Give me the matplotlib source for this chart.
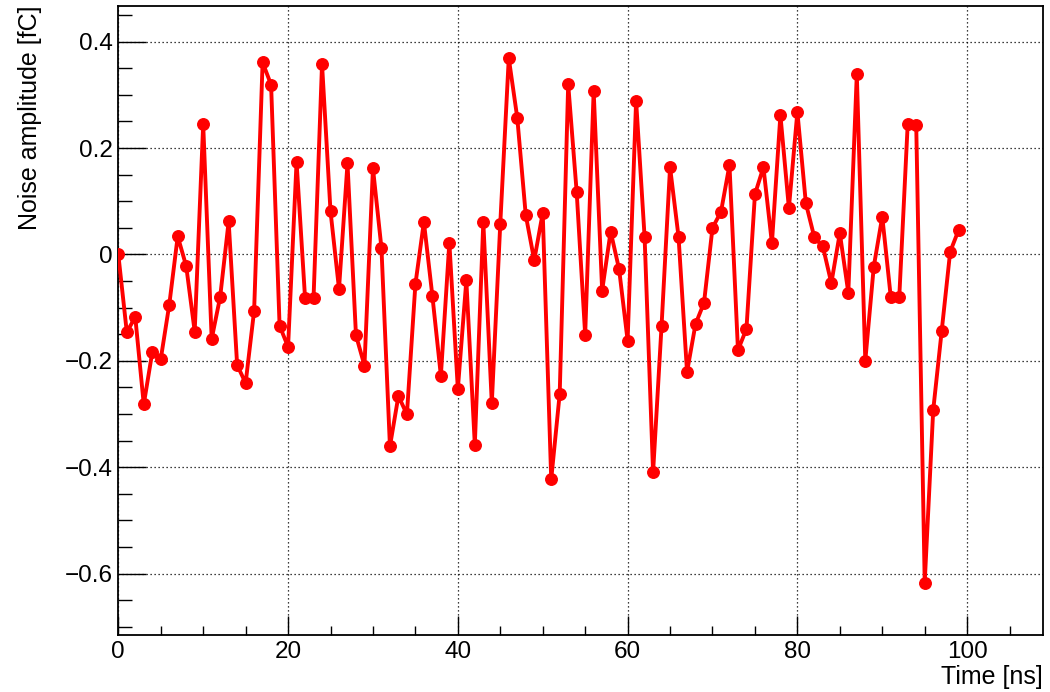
import matplotlib
matplotlib.use("Agg")
import matplotlib.pyplot as plt
from matplotlib.ticker import MultipleLocator, FuncFormatter

plt.rcParams['font.family'] = ['Liberation Sans', 'DejaVu Sans']

# ---- data ----
time_ns = list(range(100))
noise_fc = [
    0.000, -0.146, -0.118, -0.282, -0.184, -0.197, -0.095, 0.034, -0.022, -0.145,
    0.245, -0.159, -0.080, 0.062, -0.208, -0.242, -0.106, 0.361, 0.319, -0.134,
    -0.174, 0.174, -0.082, -0.082, 0.358, 0.081, -0.065, 0.171, -0.152, -0.209,
    0.162, 0.012, -0.361, -0.266, -0.301, -0.056, 0.061, -0.078, -0.228, 0.022,
    -0.253, -0.049, -0.358, 0.061, -0.280, 0.058, 0.369, 0.257, 0.074, -0.011,
    0.078, -0.423, -0.262, 0.320, 0.117, -0.151, 0.307, -0.068, 0.043, -0.028,
    -0.162, 0.289, 0.033, -0.410, -0.134, 0.164, 0.033, -0.221, -0.131, -0.091,
    0.050, 0.080, 0.168, -0.180, -0.140, 0.113, 0.164, 0.021, 0.262, 0.087,
    0.268, 0.096, 0.032, 0.015, -0.054, 0.040, -0.072, 0.339, -0.200, -0.023,
    0.071, -0.080, -0.081, 0.246, 0.244, -0.617, -0.293, -0.144, 0.005, 0.046,
]
x_label = "Time [ns]"
y_label = "Noise amplitude [fC]"

W, H = 1050, 692
fig = plt.figure(figsize=(W / 100, H / 100), dpi=100)
left, right, top, bottom = 118.3, 1042.7, 5.7, 635.0
ax = fig.add_axes([left / W, 1 - bottom / H, (right - left) / W, (bottom - top) / H])

ax.plot(time_ns, noise_fc, color='#ff0000', lw=2.8, marker='o', ms=8.3,
        mfc='#ff0000', mec='#ff0000', zorder=3)

# ROOT-like automatic range (10% margins, xmin clamped at 0)
xmin, xmax = min(time_ns), max(time_ns)
ymin, ymax = min(noise_fc), max(noise_fc)
dx, dy = xmax - xmin, ymax - ymin
ax.set_xlim(max(0, xmin - 0.1 * dx), xmax + 0.1 * dx)
ax.set_ylim(ymin - 0.1 * dy, ymax + 0.1 * dy)

ax.xaxis.set_major_locator(MultipleLocator(20))
ax.xaxis.set_minor_locator(MultipleLocator(5))
ax.yaxis.set_major_locator(MultipleLocator(0.2))
ax.yaxis.set_minor_locator(MultipleLocator(0.05))

fmt = FuncFormatter(lambda v, p: ("%g" % round(v, 6)).replace('-', '\u2212'))
ax.xaxis.set_major_formatter(fmt)
ax.yaxis.set_major_formatter(fmt)

ax.tick_params(axis='x', which='major', direction='in', length=13.7, width=1.0,
               labelsize=17.5, pad=4, top=False)
ax.tick_params(axis='x', which='minor', direction='in', length=6.8, width=1.0, top=False)
ax.tick_params(axis='y', which='major', direction='in', length=20, width=1.0,
               labelsize=17.5, pad=4, right=False)
ax.tick_params(axis='y', which='minor', direction='in', length=10, width=1.0, right=False)

for s in ax.spines.values():
    s.set_linewidth(1.3)
    s.set_color('black')

ax.grid(True, which='major', color='black', linestyle=(0, (1, 2.2)), linewidth=0.9)
ax.set_axisbelow(True)

ax.set_xlabel(x_label, fontsize=18, loc='right')
ax.xaxis.set_label_coords(1.0, -0.048)
ax.set_ylabel(y_label, fontsize=18, loc='top')
ax.yaxis.set_label_coords(-0.083, 1.0)

fig.savefig("out.png", dpi=100, facecolor='white')
